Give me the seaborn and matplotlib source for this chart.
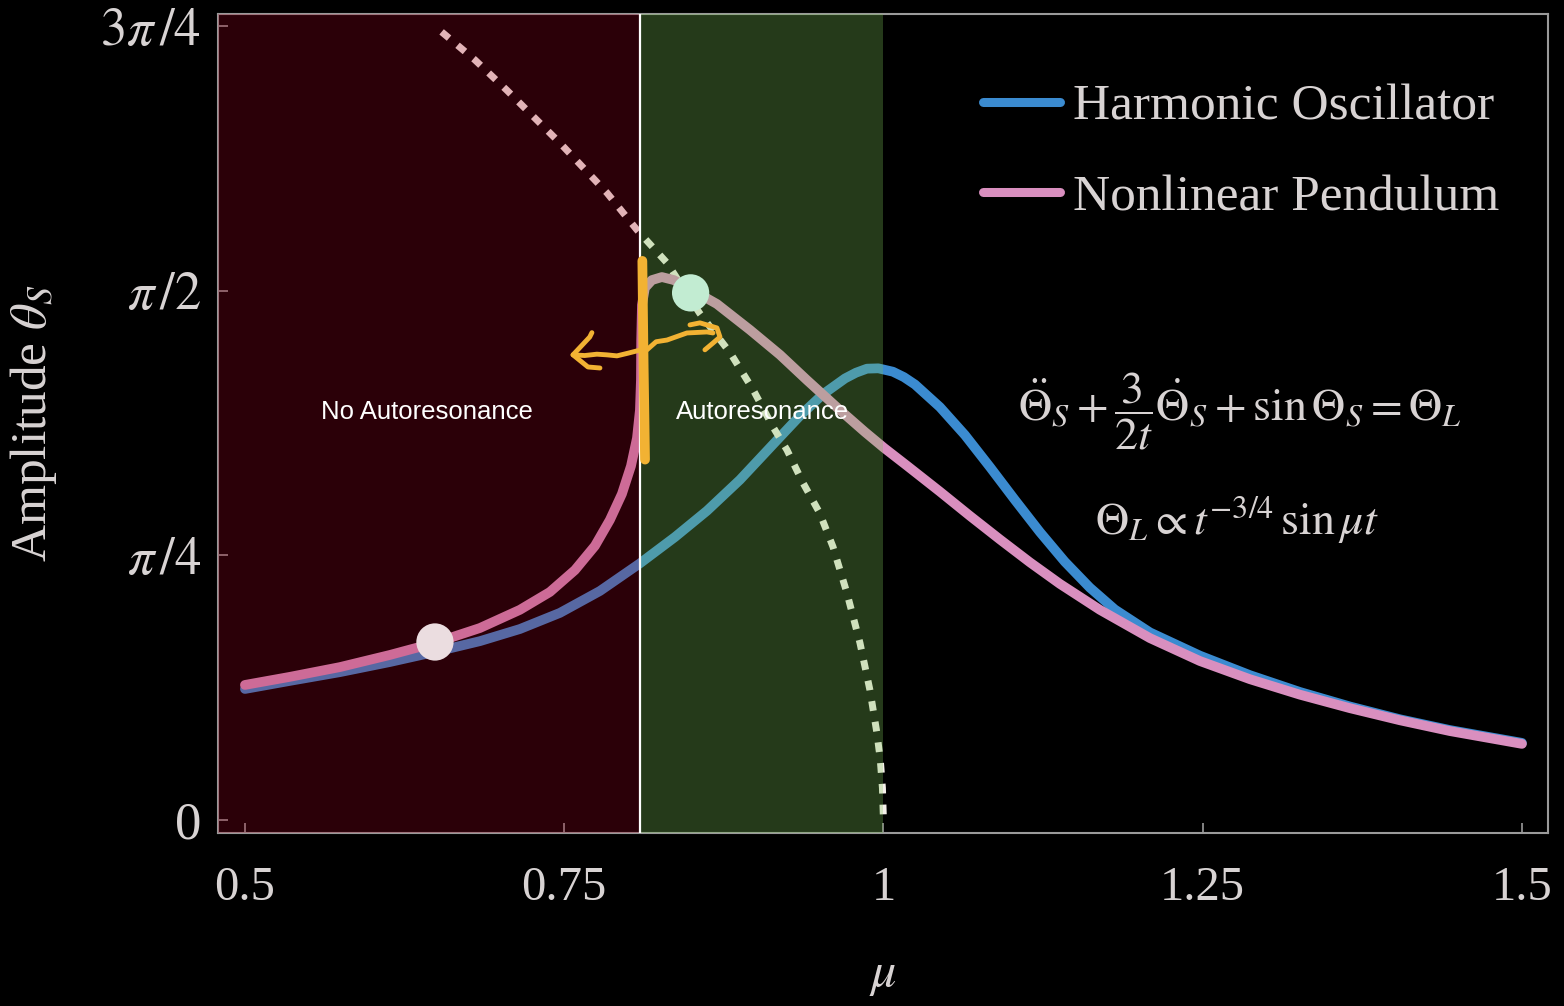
import numpy as np
import pandas as pd
import seaborn as sns
import matplotlib.pyplot as plt

# Steady-state amplitude versus drive frequency mu
mu_harmonic = [0.5000, 0.5352, 0.5744, 0.6135, 0.6488, 0.6840, 0.7153, 0.7467, 0.7780,
               0.8093, 0.8367, 0.8618, 0.8876, 0.9135, 0.9346, 0.9526, 0.9699, 0.9785,
               0.9871, 0.9960, 1.0074, 1.0160, 1.0247, 1.0442, 1.0638, 1.0834, 1.1030,
               1.1225, 1.1420, 1.1616, 1.1812, 1.2087, 1.2478, 1.2870, 1.3262, 1.3653,
               1.4045, 1.4436, 1.5000]
amp_harmonic = [0.389, 0.413, 0.439, 0.469, 0.499, 0.531, 0.567, 0.615, 0.680,
                0.762, 0.840, 0.918, 1.010, 1.115, 1.200, 1.264, 1.311, 1.328,
                1.340, 1.341, 1.331, 1.315, 1.293, 1.226, 1.143, 1.048, 0.950,
                0.855, 0.767, 0.690, 0.625, 0.557, 0.488, 0.430, 0.380, 0.337,
                0.299, 0.267, 0.229]

mu_pendulum = [0.5000, 0.5352, 0.5744, 0.6135, 0.6488, 0.6840, 0.7153, 0.7388, 0.7584,
               0.7741, 0.7858, 0.7952, 0.8023, 0.8070, 0.8093, 0.8101, 0.8103, 0.8109,
               0.8132, 0.8187, 0.8265, 0.8359, 0.8500, 0.8696, 0.8955, 0.9190, 0.9401,
               0.9659, 0.9855, 1.0004, 1.0184, 1.0442, 1.0677, 1.0912, 1.1147, 1.1382,
               1.1695, 1.2087, 1.2478, 1.2870, 1.3262, 1.3653, 1.4045, 1.4436, 1.5000]
amp_pendulum = [0.401, 0.425, 0.454, 0.490, 0.526, 0.570, 0.624, 0.677, 0.742,
                0.814, 0.891, 0.968, 1.051, 1.134, 1.217, 1.306, 1.425, 1.529,
                1.580, 1.603, 1.612, 1.603, 1.574, 1.532, 1.455, 1.381, 1.306,
                1.217, 1.152, 1.105, 1.052, 0.975, 0.903, 0.833, 0.765, 0.701,
                0.624, 0.540, 0.472, 0.418, 0.372, 0.332, 0.296, 0.264, 0.226]

# Backbone (free pendulum frequency versus amplitude)
mu_backbone = [0.654, 0.680, 0.705, 0.7467, 0.7835, 0.807, 0.8305, 0.856, 0.880, 0.898,
               0.9135, 0.9244, 0.937, 0.950, 0.9605, 0.9714, 0.9816, 0.9894, 0.9949,
               0.9975, 0.9992, 1.000]
amp_backbone = [2.340, 2.257, 2.167, 2.010, 1.862, 1.752, 1.654, 1.505, 1.387, 1.277,
                1.167, 1.099, 1.001, 0.912, 0.811, 0.674, 0.526, 0.386, 0.258,
                0.180, 0.095, 0.0]

# Highlighted states
capture_mu, capture_amp = [0.6488], [0.5285]
locked_mu, locked_amp = [0.849], [1.565]

# Regime boundaries
threshold_mu = 0.8093
linear_mu = 1.0

x_ticks = [0.5, 0.75, 1.0, 1.25, 1.5]
x_tick_labels = ["0.5", "0.75", "1", "1.25", "1.5"]
y_ticks = [0, np.pi / 4, np.pi / 2, 3 * np.pi / 4]
y_tick_labels = ["0", r"$\pi\,/4$", r"$\pi\,/2$", r"$3\pi\,/4$"]

BLUE = "#3b8bd0"
PINK = "#d98fbf"
BACKBONE = "#f5f0ea"
RED_TINT = "#ac0020"
GREEN_TINT = "#7bc157"
ORANGE = "#f2b233"
TEXT = "#d8d3d3"
GREY = "#9a9a9a"

sns.set_theme(style="ticks")
plt.rcParams["font.family"] = ["Liberation Serif", "DejaVu Serif"]
plt.rcParams["mathtext.fontset"] = "stix"

fig = plt.figure(figsize=(15.64, 10.06), dpi=100, facecolor="black")
ax = fig.add_axes([218 / 1564, 1 - 833 / 1006, 1330 / 1564, 819 / 1006])
ax.set_facecolor("black")

harm = pd.DataFrame({"mu": mu_harmonic, "amp": amp_harmonic})
pend = pd.DataFrame({"mu": mu_pendulum, "amp": amp_pendulum})
back = pd.DataFrame({"mu": mu_backbone, "amp": amp_backbone})

sns.lineplot(data=harm, x="mu", y="amp", ax=ax, color=BLUE, lw=7, sort=False,
             estimator=None, label="Harmonic Oscillator", zorder=2,
             solid_joinstyle="round")
sns.lineplot(data=pend, x="mu", y="amp", ax=ax, color=PINK, lw=7, sort=False,
             estimator=None, label="Nonlinear Pendulum", zorder=2.1,
             solid_joinstyle="round")
sns.lineplot(data=back, x="mu", y="amp", ax=ax, color=BACKBONE, lw=5, sort=False,
             estimator=None, linestyle=(0, (1.4, 1.6)), zorder=2.05)

xmin, xmax = 0.4789, 1.5204
ax.set_xlim(xmin, xmax)
ax.set_ylim(-0.0386, 2.393)

# Tinted regimes laid over the curves
ax.axvspan(xmin, threshold_mu, color=RED_TINT, alpha=0.25, lw=0, zorder=2.6)
ax.axvspan(threshold_mu, linear_mu, color=GREEN_TINT, alpha=0.30, lw=0, zorder=2.6)
ax.axvline(threshold_mu, color="white", lw=1.6, zorder=3)

sns.scatterplot(x=capture_mu, y=capture_amp, ax=ax, s=720, color="#ebdde0",
                edgecolor="none", zorder=4, legend=False)
sns.scatterplot(x=locked_mu, y=locked_amp, ax=ax, s=720, color="#c2ecd2",
                edgecolor="none", zorder=4, legend=False)

# Hand-drawn threshold marker with arrows
ax.plot([0.8112, 0.8117, 0.8122, 0.8128, 0.8133], [1.66, 1.50, 1.35, 1.20, 1.07],
        color=ORANGE, lw=7, solid_capstyle="round", zorder=6)
ax.plot([0.8093, 0.800, 0.7913, 0.7835, 0.7756, 0.766, 0.7569],
        [1.395, 1.386, 1.378, 1.381, 1.383, 1.379, 1.381],
        color=ORANGE, lw=3.5, solid_capstyle="round", solid_joinstyle="round", zorder=6)
ax.plot([0.7717, 0.7700, 0.7569, 0.7686, 0.7780], [1.447, 1.434, 1.381, 1.345, 1.342],
        color=ORANGE, lw=3.5, solid_capstyle="round", solid_joinstyle="round", zorder=6)
ax.plot([0.8148, 0.8220, 0.8305, 0.8461, 0.8618, 0.8665],
        [1.396, 1.420, 1.425, 1.446, 1.449, 1.446],
        color=ORANGE, lw=3.5, solid_capstyle="round", solid_joinstyle="round", zorder=6)
ax.plot([0.8485, 0.8563, 0.8696, 0.8720, 0.8665, 0.8602],
        [1.470, 1.476, 1.461, 1.434, 1.416, 1.396],
        color=ORANGE, lw=3.5, solid_capstyle="round", solid_joinstyle="round", zorder=6)

ax.text(0.6425, 1.212, "No Autoresonance", color="white", fontsize=18.5,
        family="Liberation Sans", ha="center", va="center", zorder=7)
ax.text(0.9056, 1.212, "Autoresonance", color="white", fontsize=18.5,
        family="Liberation Sans", ha="center", va="center", zorder=7)

ax.text(1.279, 1.212,
        r"$\ddot{\Theta}_S+\dfrac{3}{2t}\dot{\Theta}_S+\sin\Theta_S=\Theta_L$",
        color=TEXT, fontsize=33, ha="center", va="center", zorder=7)
ax.text(1.277, 0.890, r"$\Theta_L\propto t^{-3/4}\,\sin\mu t$",
        color=TEXT, fontsize=33, ha="center", va="center", zorder=7)

ax.set_xticks(x_ticks, x_tick_labels)
ax.set_yticks(y_ticks, y_tick_labels)
ax.tick_params(direction="in", length=7, width=1.2, color=GREY, labelcolor=TEXT,
               labelsize=35)
ax.tick_params(axis="x", pad=24)
ax.tick_params(axis="y", pad=12, labelsize=38)
for sp in ax.spines.values():
    sp.set_color(GREY)
    sp.set_linewidth(1.5)
    sp.set_zorder(2.5)

ax.set_xlabel(r"$\mu$", color=TEXT, fontsize=36, labelpad=30)
ax.set_ylabel(r"Amplitude $\theta_S$", color=TEXT, fontsize=37, labelpad=30)

leg = ax.legend(loc="upper left", bbox_to_anchor=(0.575, 0.915), frameon=False,
                fontsize=37, handlelength=1.5, handletextpad=0.25, labelspacing=0.85,
                borderpad=0, borderaxespad=0)
for txt in leg.get_texts():
    txt.set_color(TEXT)
for ln in leg.get_lines():
    ln.set_linewidth(6.5)
leg.set_zorder(8)

fig.savefig("out.png", dpi=100, facecolor="black")
